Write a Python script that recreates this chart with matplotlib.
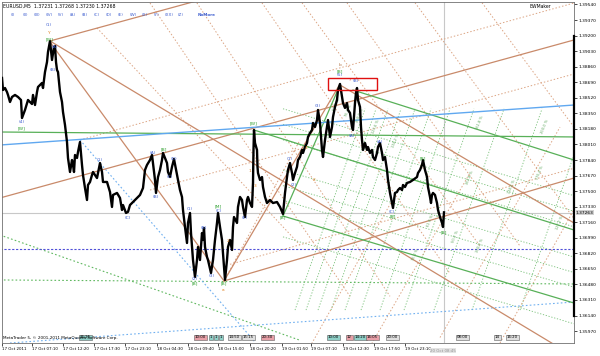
import numpy as np
import matplotlib.pyplot as plt

# price path, bar index vs price
bars = [2, 3, 5, 7, 8, 10, 12, 15, 18, 21, 22, 25, 28, 32, 33, 35, 37, 38, 42, 43, 45, 47, 48, 50,
        52, 54, 55, 56, 57, 58, 60, 62, 63, 65, 67, 68, 70, 72, 73, 74, 75, 77, 78, 80, 82, 83, 85,
        87, 88, 90, 92, 93, 97, 100, 102, 103, 107, 110, 112, 113, 117, 120, 122, 123, 126, 128,
        130, 133, 137, 140, 143, 145, 147, 150, 152, 153, 155, 156, 158, 160, 162, 163, 167, 168,
        170, 172, 173, 174, 177, 178, 180, 182, 183, 185, 187, 188, 190, 191, 193, 195, 197, 198,
        200, 202, 203, 204, 205, 207, 208, 211, 213, 215, 217, 218, 220, 222, 223, 225, 227, 228,
        230, 232, 233, 234, 237, 238, 240, 242, 243, 245, 247, 248, 250, 252, 253, 253.5, 254, 255,
        257, 257.5, 258, 260, 262, 263, 265, 267, 270, 273, 277, 280, 283, 285, 287, 288, 290, 292,
        293, 295, 297, 298, 300, 302, 303, 305, 307, 308, 310, 312, 313, 315, 317, 318, 320, 322,
        323, 325, 327, 328, 330, 332, 333, 335, 337, 338, 340, 342, 343, 345, 347, 348, 350, 352,
        353, 354, 355, 356, 357, 358, 360, 361, 362, 363, 365, 367, 368, 370, 372, 373, 375, 377,
        378, 380, 382, 383, 385, 387, 388, 390, 392, 393, 395, 397, 398, 400, 402, 403, 405, 407,
        410, 413, 417, 418, 420, 422, 423, 425, 427, 428, 430, 431, 432, 433, 435, 437, 438, 440,
        442, 443, 444]
prices = [1.38737, 1.38605, 1.38627, 1.38583, 1.38551, 1.38474, 1.38529, 1.38551, 1.38529, 1.38496,
          1.38299, 1.38387, 1.38496, 1.38452, 1.38551, 1.38441, 1.38583, 1.38638, 1.38682, 1.38627,
          1.38802, 1.38911, 1.39021, 1.39141,
          1.38933, 1.39075, 1.39086, 1.38911, 1.38824, 1.38802, 1.38583, 1.38474, 1.38365, 1.38223,
          1.38037, 1.37862, 1.37709, 1.37840, 1.37786, 1.37709, 1.37895, 1.37862, 1.37928, 1.38037,
          1.37786, 1.37676, 1.37534, 1.37403, 1.37567, 1.37600, 1.37676, 1.37709, 1.37643, 1.37807,
          1.37709, 1.37600, 1.37600, 1.37490, 1.37327, 1.37458, 1.37480, 1.37425, 1.37294, 1.37348,
          1.37261, 1.37273, 1.37348, 1.37381, 1.37425, 1.37458, 1.37534, 1.37731, 1.37786, 1.37840,
          1.37895, 1.37807, 1.37622, 1.37480, 1.37654, 1.37731, 1.37840, 1.37917, 1.37807, 1.37709,
          1.37654, 1.37765, 1.37807, 1.37851, 1.37676, 1.37622, 1.37512, 1.37436, 1.37294, 1.37108,
          1.36933, 1.37152, 1.37261, 1.37042, 1.36747, 1.36561, 1.36747, 1.36889, 1.36747, 1.37042,
          1.36966, 1.37097, 1.36889, 1.36780, 1.36747, 1.36605, 1.36747, 1.36966, 1.37152, 1.37261,
          1.37108, 1.36966, 1.36824, 1.36529, 1.36747, 1.36889, 1.36966, 1.36857, 1.37108, 1.37217,
          1.37152, 1.37327, 1.37436, 1.37403, 1.37327, 1.37217, 1.37403, 1.37436, 1.37370, 1.37327,
          1.37589, 1.37950, 1.38168, 1.38026, 1.37950, 1.37765, 1.37698, 1.37622, 1.37654, 1.37545,
          1.37436, 1.37370, 1.37403, 1.37370, 1.37381, 1.37327, 1.37250, 1.37480, 1.37654, 1.37731,
          1.37807, 1.37698, 1.37622, 1.37698, 1.37765, 1.37840, 1.37873, 1.37950, 1.37917, 1.37982,
          1.38026, 1.38092, 1.38135, 1.38168, 1.38245, 1.38201, 1.38277, 1.38387, 1.38245, 1.37950,
          1.37873, 1.38059, 1.38201, 1.38277, 1.38092, 1.38201, 1.38310, 1.38420, 1.38496, 1.38605,
          1.38671, 1.38529, 1.38463, 1.38409, 1.38463, 1.38387, 1.38354, 1.38201, 1.38168, 1.38310,
          1.38463, 1.38573, 1.38627, 1.38496, 1.38420, 1.38201, 1.38059, 1.37950, 1.38026, 1.37950,
          1.37982, 1.37917, 1.37950, 1.37873, 1.37840, 1.37917, 1.37982, 1.38026, 1.37917, 1.37840,
          1.37873, 1.37731, 1.37622, 1.37480, 1.37370, 1.37316, 1.37480, 1.37490, 1.37512, 1.37534,
          1.37512, 1.37567, 1.37545, 1.37589, 1.37600, 1.37622, 1.37654, 1.37698, 1.37731, 1.37786,
          1.37840, 1.37731, 1.37654, 1.37545, 1.37436, 1.37370, 1.37458, 1.37480, 1.37458, 1.37370,
          1.37294, 1.37217, 1.37152, 1.37108, 1.37268]

# axis
y_ticks = [1.39540, 1.39370, 1.39200, 1.39030, 1.38860, 1.38690, 1.38520, 1.38350, 1.38180,
           1.38010, 1.37840, 1.37670, 1.37500, 1.37330, 1.37160, 1.36990, 1.36820, 1.36650,
           1.36480, 1.36310, 1.36140, 1.35970]
x_ticks = [2, 32, 63, 94, 125, 157, 188, 218, 250, 282, 311, 343, 374, 405]
x_labels = ['17 Oct 2011', '17 Oct 07:10', '17 Oct 12:20', '17 Oct 17:30', '17 Oct 23:10',
            '18 Oct 04:30', '18 Oct 09:40', '18 Oct 15:00', '18 Oct 20:20', '19 Oct 01:50',
            '19 Oct 07:10', '19 Oct 12:30', '19 Oct 17:50', '19 Oct 23:10']
cursor_label = '20 Oct 08:45'
last_price = 1.37263

# trend lines: x1, p1, x2, p2
brown_solid = [
    (50, 1.39141, 200, 1.39589),
    (50, 1.39141, 555, 1.35818),
    (50, 1.39130, 224, 1.36518),
    (224, 1.36518, 340, 1.38671),
    (0, 1.37425, 574, 1.39152),
    (224, 1.36518, 574, 1.37643),
    (340, 1.38660, 574, 1.37152),
]
brown_dotted = [
    (80, 1.38059, 574, 1.39556),
    (150, 1.37512, 574, 1.38780),
    (230, 1.36700, 574, 1.37750),
    (97, 1.39283, 300, 1.36911),
    (150, 1.39556, 350, 1.36350),
    (195, 1.39589, 390, 1.36350),
    (260, 1.39589, 450, 1.36600),
    (300, 1.39589, 480, 1.36900),
    (345, 1.39589, 520, 1.36900),
    (413, 1.39589, 574, 1.37200),
    (480, 1.39589, 574, 1.38200),
    (224, 1.36518, 300, 1.38059),
    (310, 1.35800, 400, 1.37550),
    (370, 1.35800, 470, 1.37700),
    (440, 1.35900, 560, 1.38200),
    (500, 1.35840, 574, 1.37300),
]
green_solid = [
    (2, 1.38146, 574, 1.38092),
    (353, 1.38605, 574, 1.37840),
    (254, 1.38168, 574, 1.37075),
    (283, 1.37228, 574, 1.36277),
    (283, 1.37228, 340, 1.38660),
]
green_dotted = [
    (0, 1.37020, 300, 1.35870),
    (0, 1.36529, 574, 1.36485),
]
blue_solid = [(0, 1.38004, 574, 1.38441)]
blue_dotted = [(80, 1.38059, 255, 1.35851), (10, 1.35840, 574, 1.36288)]
purple_dotted = [(0, 1.36868, 574, 1.36868)]

# green dotted grid between the green rays: steep lines (bottom bar) and flat lines (start price)
grid_steep_x = [295, 306, 318, 331, 345, 361, 380, 404, 434, 472, 520]
grid_flat_p = [1.38400, 1.38230, 1.38060, 1.37730, 1.37560, 1.37400, 1.37000]
grid_tags = [(336, 1.38440, '61.8'), (348, 1.38380, '76.4'), (360, 1.38320, '100.0'),
             (376, 1.38200, '123.6'), (396, 1.38050, '138.2'), (480, 1.38250, '161.8'),
             (545, 1.38200, '200.0'), (470, 1.37650, '161.8'), (512, 1.37550, '138.2'),
             (540, 1.37700, '176.4'), (430, 1.37180, '61.8'), (455, 1.37000, '50.0'),
             (415, 1.36800, '76.4'), (480, 1.36900, '100.0'), (560, 1.37150, '127.2')]

# wave labels: bar, price, text, colour
wave_labels = [
    (49, 1.39316, '(1)', '#4060d0'), (49, 1.39229, 'Y', '#e08020'), (49, 1.39163, '[W]', '#30a030'),
    (55, 1.39075, '(A)', '#4060d0'), (53, 1.38824, '(B)', '#4060d0'), (22, 1.38256, '(4)', '#4060d0'),
    (22, 1.38190, '[W]', '#30a030'), (100, 1.37840, '(1)', '#4060d0'), (128, 1.37207, '(C)', '#4060d0'),
    (153, 1.37917, '(A)', '#4060d0'), (156, 1.37436, '(B)', '#4060d0'), (164, 1.37960, '[B]', '#30a030'),
    (170, 1.37654, '(C)', '#4060d0'), (174, 1.37851, '(D)', '#4060d0'), (190, 1.37305, '(1)', '#4060d0'),
    (195, 1.36540, '(2)', '#4060d0'), (195, 1.36496, '[B]', '#30a030'), (204, 1.37097, '(B)', '#4060d0'),
    (212, 1.36572, '(3)', '#4060d0'), (219, 1.37283, '(C)', '#4060d0'), (218, 1.37338, '[M]', '#30a030'),
    (224, 1.36496, '[B]', '#30a030'), (223, 1.36420, 'a', '#e08020'), (245, 1.37207, '(E)', '#4060d0'),
    (254, 1.38245, '[W]', '#30a030'), (283, 1.37217, '[B]', '#30a030'), (290, 1.37851, '(1)', '#4060d0'),
    (294, 1.37567, '(2)', '#4060d0'), (318, 1.38431, '(3)', '#4060d0'), (340, 1.38769, '(5)', '#4060d0'),
    (340, 1.38813, '[B]', '#30a030'), (340, 1.38878, 'b', '#b07040'), (352, 1.38102, '(A)', '#4060d0'),
    (356, 1.38704, '(B)', '#4060d0'), (380, 1.38037, '(A)', '#4060d0'), (392, 1.37272, '(C)', '#4060d0'),
    (393, 1.37228, '[B]', '#30a030'), (423, 1.37862, '[B]', '#30a030'), (444, 1.37053, '[B]', '#30a030'),
    (350, 1.38715, '?', '#e02020'), (250, 1.37720, '1', '#e08020'), (255, 1.37560, '3', '#e08020'),
    (228, 1.36950, '2', '#e08020'), (306, 1.37970, '4', '#e08020'), (314, 1.37620, '2', '#e08020'),
]
header_tags = ['(I)', '(II)', '(III)', '(IV)', '(V)', '(A)', '(B)', '(C)', '(D)', '(E)',
               '(W)', '(X)', '(Y)', '(XX)', '(Z)']

# time boxes on the time scale: bar, text, face colour
time_boxes = [(76, '', '#e8a0a8'), (80, '16:25', '#90d0c8'), (195, '10:00', '#e8a0a8'),
              (210, '1', '#90d0c8'), (215, '1', '#90d0c8'), (220, '1', '#90d0c8'),
              (229, '14:50', '#e0e0e0'), (243, '15:15', '#e0e0e0'), (262, '20:30', '#e8a0a8'),
              (328, '10:00', '#90d0c8'), (347, '12', '#e8a0a8'), (355, '14:20', '#90d0c8'),
              (367, '16:05', '#e8a0a8'), (380, '', '#90d0c8'), (387, '20:00', '#e0e0e0'),
              (457, '08:00', '#e0e0e0'), (495, '14', '#e0e0e0'), (507, '16:20', '#e0e0e0')]

fig = plt.figure(figsize=(6, 3.56), dpi=100)
ax = fig.add_axes([2 / 600, 13 / 356, 572 / 600, 341 / 356])
ax.set_xlim(2, 574)
ax.set_ylim(1.35840, 1.39567)

DOT = (0, (1.5, 2))


def draw(lines, color, ls, lw):
    for x1, p1, x2, p2 in lines:
        ax.plot([x1, x2], [p1, p2], color=color, ls=ls, lw=lw, zorder=2)


ax.axhline(last_price, color='#c8c8c8', lw=0.8, zorder=1)
ax.axvline(444, color='#c8c8c8', lw=0.8, zorder=1)

for x in grid_steep_x:
    ax.plot([x, x + 70], [1.36200, 1.38400], color='#78c078', ls=DOT, lw=0.6, zorder=2)
for p in grid_flat_p:
    ax.plot([283, 574], [p, p - 0.0095], color='#78c078', ls=DOT, lw=0.6, zorder=2)
for x, p, t in grid_tags:
    ax.text(x, p, t + ' %', fontsize=2.6, color='#60a860', rotation=68, ha='center', va='center', zorder=3)

draw(brown_dotted, '#dca584', DOT, 0.7)
draw(green_dotted, '#60b860', DOT, 0.8)
draw(blue_dotted, '#70b0f0', DOT, 0.8)
draw(purple_dotted, '#5050d8', (0, (2, 1.5)), 0.8)
draw(brown_solid, '#c98a6a', '-', 0.9)
draw(green_solid, '#58b058', '-', 0.9)
draw(blue_solid, '#60a8f0', '-', 1.0)

ax.plot(bars, prices, color='black', lw=1.7, zorder=5)

for x, p, t, c in wave_labels:
    ax.text(x, p, t, color=c, fontsize=3.2, ha='center', va='center', zorder=6)

ax.add_patch(plt.Rectangle((328, 1.38605), 49, 0.00131, fill=False, ec='#e01010', lw=1.0, zorder=7))

ax.yaxis.tick_right()
ax.set_yticks(y_ticks)
ax.set_yticklabels(['%.5f' % v for v in y_ticks])
ax.set_xticks(x_ticks)
ax.set_xticklabels(x_labels, ha='left')
ax.tick_params(axis='both', labelsize=3.2, length=2, width=0.5, pad=1, colors='black')
ax.tick_params(axis='x', labelsize=2.9)
for s in ax.spines.values():
    s.set_linewidth(0.6)
    s.set_color('#707070')
ax.plot([574, 574], [1.36140, 1.39200], color='black', lw=1.6, clip_on=False, zorder=8)

ax.text(576, last_price, '1.37263', fontsize=3.2, va='center', ha='left',
        bbox=dict(fc='#d0d0d0', ec='none', pad=0.3), clip_on=False)
ax.text(430, 1.35755, cursor_label, fontsize=2.9, va='center', ha='left', color='#909090',
        bbox=dict(fc='#e4e4e4', ec='none', pad=0.3), clip_on=False)

fig.text(3 / 600, 1 - 6 / 356, 'EURUSD,M5  1.37231 1.37268 1.37230 1.37268', fontsize=3.3, va='center')
for i, t in enumerate(header_tags):
    fig.text((13 + i * 12) / 600, 1 - 15 / 356, t, fontsize=3.0, color='#4060d0', va='center', ha='center')
fig.text(198 / 600, 1 - 15 / 356, 'NoMore', fontsize=3.0, color='#4060d0', va='center', ha='left',
         fontweight='bold')
fig.text(540 / 600, 1 - 7 / 356, 'EWMaker', fontsize=3.3, va='center', ha='center')
fig.text(3 / 600, 1 - 338 / 356, 'MetaTrader 5, \u00a9 2001-2011 MetaQuotes Software Corp.', fontsize=3.0,
         va='center')
for x, t, c in time_boxes:
    ax.text(x, 1.35905, t, fontsize=2.8, va='center', ha='left', zorder=9,
            bbox=dict(fc=c, ec='#606060', lw=0.4, pad=0.4))

fig.savefig('out.png', dpi=100)
